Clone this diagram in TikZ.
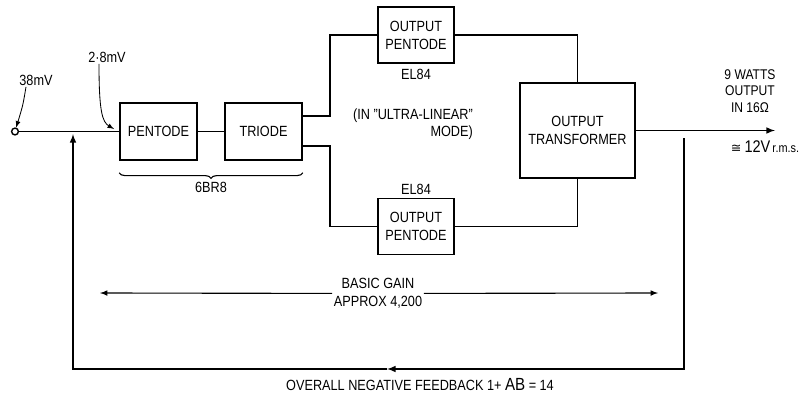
\documentclass[tikz,border=0pt]{standalone}
\usepackage{fontspec}
\setmainfont[FakeStretch=0.86]{Liberation Sans}
\newfontfamily\symfont{DejaVu Sans}
\usepackage{tikz}
\usetikzlibrary{shapes, arrows, positioning, calc, decorations.pathreplacing}

\begin{document}
\begin{tikzpicture}[x=0.025cm, y=-0.025cm, node distance=2.625cm, >=latex,
  box/.style={rectangle, draw, line width=1.1pt, minimum width=1.925cm, minimum height=1.425cm, align=center, font=\fontsize{10.5}{12.8}\selectfont},
  lbl/.style={font=\fontsize{10.5}{12.5}\selectfont, align=center, inner sep=1pt},
  wire/.style={line width=1.1pt}]

\useasboundingbox (0,0) rectangle (810,395);

\node[box] (pent) at (158.5,131.5) {PENTODE};
\node[box, right of=pent] (tri) {TRIODE};
\node[box, minimum width=1.9cm, minimum height=1.4cm] (optop) at (416,35) {OUTPUT\\PENTODE};
\node[box, minimum width=1.9cm, minimum height=1.4cm] (opbot) at (416,226.5) {OUTPUT\\PENTODE};
\node[box, minimum width=2.875cm, minimum height=2.375cm] (otr) at (577.5,130.5) {OUTPUT\\TRANSFORMER};

\node[circle, draw, line width=1pt, inner sep=0pt, minimum size=0.17cm] (in) at (15,131.5) {};
\node[lbl] (vin) at (36,80) {38mV};
\node[lbl] (vg) at (107,57) {2·8mV};
\coordinate (pin) at (114,129);

\node[lbl, below=3pt of optop] (el1) {EL84};
\node[lbl, above=1pt of opbot] (el2) {EL84};
\node[lbl, align=right] (ulm) at (413,124) {(IN "ULTRA-LINEAR"\\MODE)};
\node[lbl, font=\fontsize{10}{11.7}\selectfont] (watts) at (750,91) {9 WATTS\\OUTPUT\\IN 16Ω};
\node[lbl, font=\fontsize{9}{11}\selectfont] (rms) at (765,147) {{\symfont ≅} {\fontsize{12}{12}\selectfont 12V}\,r.m.s.};
\node[lbl] (gain) at (378,293.5) {BASIC GAIN\\APPROX 4,200};
\node[lbl] (fbtxt) at (420,385) {OVERALL NEGATIVE FEEDBACK 1+ {\fontsize{12.5}{12}\selectfont AB} = 14};

\coordinate (bl) at (330,0);
\coordinate (vout) at (775,130.5);
\coordinate (fbtop) at (684,138);
\coordinate (fbmid) at (387,369);
\coordinate (fbin) at (73,134);
\coordinate (gl) at (100,293);
\coordinate (gr) at (658,293);

\draw[wire] (in) -- (pent);
\draw[wire] (pent) -- (tri);
\draw[wire] ([yshift=0.39cm]tri.east) -| (optop.west -| bl) -- (optop.west);
\draw[wire] ([yshift=-0.36cm]tri.east) -| (opbot.west -| bl) -- (opbot.west);
\draw[wire] (optop.east) -| (otr.north);
\draw[wire] (opbot.east) -| (otr.south);
\draw[wire, ->] (otr) -- (vout);

\draw[wire, ->] (fbtop) |- (fbmid);
\draw[wire, ->] (fbmid) -| (fbin);

\draw[line width=0.8pt, ->] (gain) -- (gl);
\draw[line width=0.8pt, ->] (gain) -- (gr);

\draw[line width=0.6pt, ->] ([xshift=-0.25cm]vin.south) .. controls (23,105) .. (in);
\draw[line width=0.6pt, ->] ([xshift=-0.2cm]vg.south) .. controls (99,110) and (102,122) .. (pin);

\draw[line width=0.8pt, decorate, decoration={brace, mirror, amplitude=4pt}] ([yshift=-0.3cm]pent.south west) -- ([yshift=-0.3cm]tri.south east) node[lbl, midway, below=5pt] (tube) {6BR8};

\end{tikzpicture}
\end{document}
